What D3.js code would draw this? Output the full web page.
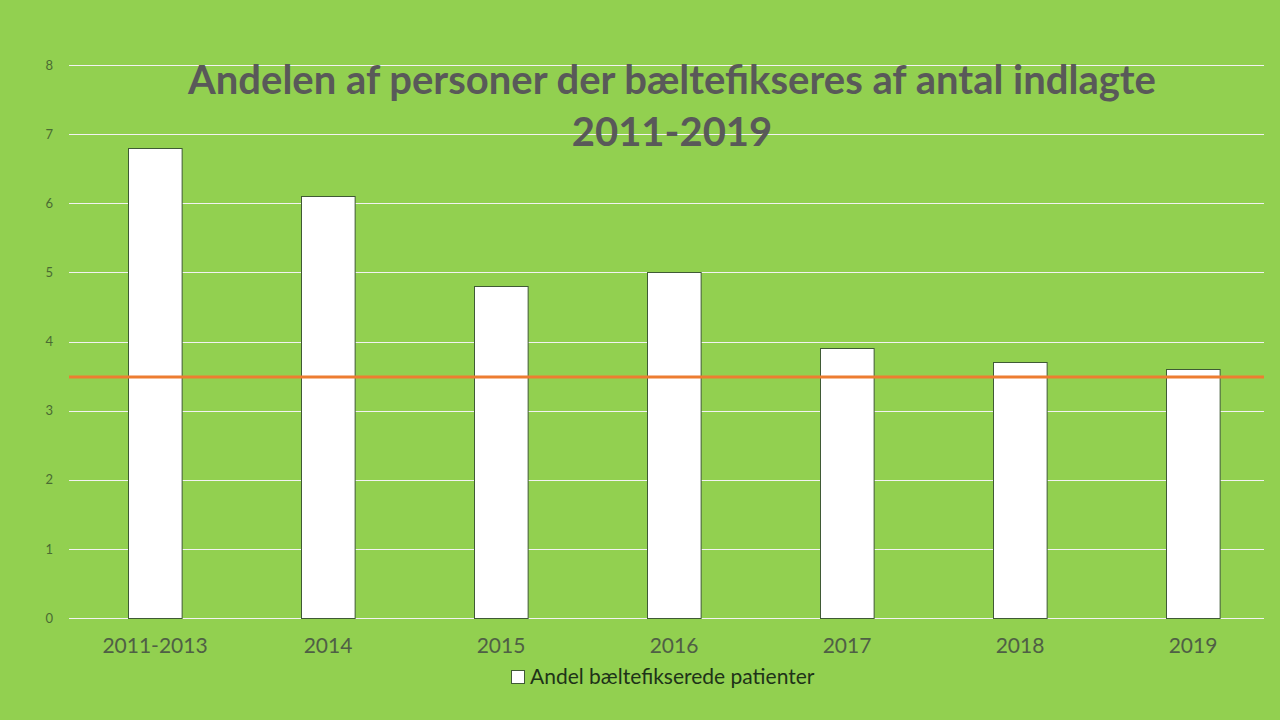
<!DOCTYPE html>
<html>
<head>
  <meta charset="utf-8">
  <script src="https://d3js.org/d3.v7.min.js"></script>
  <style>
  body { margin: 0; background: #92d050; }
  svg { display: block; font-family: Lato, "Open Sans", sans-serif; }
  .grid line { stroke: #f2f2f2; stroke-width: 1px; }
  .axis text { font-family: Lato, "Open Sans", sans-serif; }
  .y.axis text { fill: #4a6b33; font-size: 13px; }
  .x.axis text { fill: #4f5f45; font-size: 21px; }
  .axis path, .axis .tick line { display: none; }
  .bar { fill: #ffffff; stroke: #3f5a35; stroke-width: 1px; }
  .target { stroke: #ed7d31; stroke-width: 3px; }
  .title { fill: #595959; font-size: 40px; font-weight: bold; }
  .legend text { fill: #1e3318; font-size: 21px; }
  </style>
</head>
<body>
<script>
var categories = ['2011-2013', '2014', '2015', '2016', '2017', '2018', '2019'];
var values = [6.8, 6.1, 4.8, 5.0, 3.9, 3.7, 3.6];
var targetValue = 3.5;
var yTicks = [0, 1, 2, 3, 4, 5, 6, 7, 8];
var titleLines = ['Andelen af personer der bæltefikseres af antal indlagte', '2011-2019'];
var legendLabel = 'Andel bæltefikserede patienter';

var width = 1280, height = 720;
var plotLeft = 69, plotRight = 1264, plotTop = 65, plotBottom = 618;

var svg = d3.select('body').append('svg')
  .attr('width', width)
  .attr('height', height);

svg.append('rect')
  .attr('width', width).attr('height', height)
  .attr('fill', '#92d050');

// category axis runs a little past the gridlines, as in the original
var x = d3.scaleBand()
  .domain(categories)
  .range([68.5, 1279.5])
  .paddingInner(0.69)
  .paddingOuter(0.345);

var y = d3.scaleLinear()
  .domain([0, 8])
  .range([plotBottom, plotTop]);

// gridlines
svg.append('g')
  .attr('class', 'grid')
  .selectAll('line')
  .data(yTicks)
  .enter().append('line')
    .attr('x1', plotLeft)
    .attr('x2', plotRight)
    .attr('y1', function(d) { return Math.round(y(d)) + 0.5; })
    .attr('y2', function(d) { return Math.round(y(d)) + 0.5; });

// y axis
svg.append('g')
  .attr('class', 'y axis')
  .attr('transform', 'translate(' + (plotLeft - 16) + ',0)')
  .call(d3.axisLeft(y).tickValues(yTicks).tickSize(0).tickPadding(0));

// bars
svg.append('g')
  .selectAll('rect')
  .data(values)
  .enter().append('rect')
    .attr('class', 'bar')
    .attr('x', function(d, i) { return Math.round(x(categories[i])) + 0.5; })
    .attr('width', x.bandwidth())
    .attr('y', function(d) { return Math.round(y(d)) + 0.5; })
    .attr('height', function(d) { return Math.round(y(0)) - Math.round(y(d)); });

// target line
svg.append('line')
  .attr('class', 'target')
  .attr('x1', plotLeft)
  .attr('x2', plotRight)
  .attr('y1', y(targetValue) + 1)
  .attr('y2', y(targetValue) + 1);

// x axis
svg.append('g')
  .attr('class', 'x axis')
  .attr('transform', 'translate(0,' + (plotBottom + 20) + ')')
  .call(d3.axisBottom(x).tickSize(0).tickPadding(0));

// title
svg.append('text')
  .attr('class', 'title')
  .attr('text-anchor', 'middle')
  .selectAll('tspan')
  .data(titleLines)
  .enter().append('tspan')
    .attr('x', 672)
    .attr('y', function(d, i) { return 94 + i * 52; })
    .text(function(d) { return d; });

// legend
var legend = svg.append('g')
  .attr('class', 'legend')
  .attr('transform', 'translate(511,670)');

legend.append('rect')
  .attr('width', 13).attr('height', 13)
  .attr('x', 0.5).attr('y', 0.5)
  .attr('fill', '#ffffff')
  .attr('stroke', '#3f5a35');

legend.append('text')
  .attr('x', 19)
  .attr('y', 14)
  .text(legendLabel);
</script>
</body>
</html>
